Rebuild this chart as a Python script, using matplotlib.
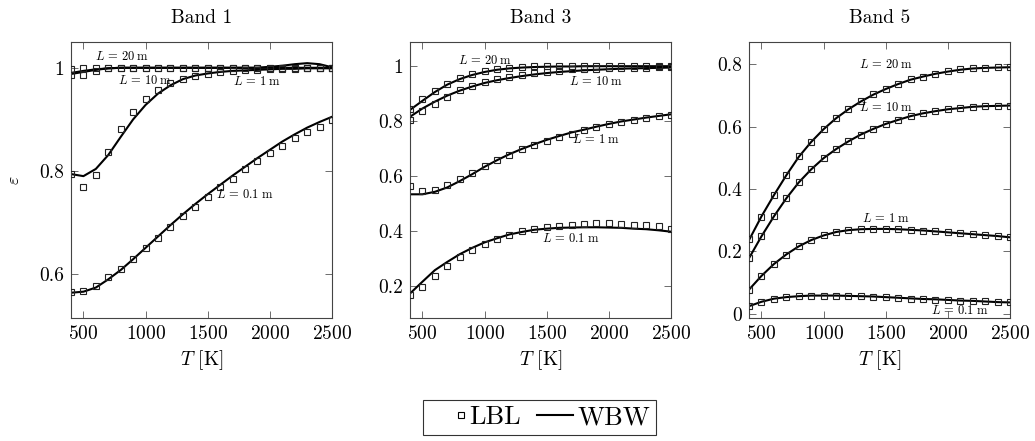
import numpy as np
import matplotlib
matplotlib.use("Agg")
import matplotlib.pyplot as plt
from matplotlib.ticker import FuncFormatter
from matplotlib.lines import Line2D
from matplotlib.legend_handler import HandlerBase

plt.rcParams['font.family'] = ['cmr10', 'DejaVu Serif']
plt.rcParams['mathtext.fontset'] = 'cm'
plt.rcParams['axes.formatter.use_mathtext'] = True

T = [400, 500, 600, 700, 800, 900, 1000, 1100, 1200, 1300, 1400, 1500,
     1600, 1700, 1800, 1900, 2000, 2100, 2200, 2300, 2400, 2500]
lengths = ["20", "10", "1", "0.1"]

# ---- Band 1 ----
b1_lbl_20 = [0.998, 0.999, 1.000, 1.000, 1.000, 1.000, 1.000, 1.000, 1.000, 1.000, 1.000,
             1.000, 1.000, 1.000, 1.000, 1.000, 1.000, 1.000, 1.000, 1.000, 1.000, 1.000]
b1_lbl_10 = [0.987, 0.986, 0.994, 0.999, 1.000, 1.000, 1.000, 1.000, 1.000, 1.000, 1.000,
             1.000, 1.000, 1.000, 1.000, 1.000, 1.000, 1.000, 1.000, 1.000, 1.000, 1.000]
b1_lbl_1 = [0.795, 0.768, 0.792, 0.837, 0.882, 0.915, 0.940, 0.957, 0.970, 0.979, 0.985,
            0.988, 0.992, 0.994, 0.995, 0.996, 0.997, 0.998, 0.998, 0.999, 0.999, 0.999]
b1_lbl_01 = [0.566, 0.568, 0.577, 0.594, 0.610, 0.630, 0.650, 0.671, 0.692, 0.712, 0.731,
             0.750, 0.768, 0.785, 0.803, 0.819, 0.834, 0.848, 0.863, 0.875, 0.886, 0.898]
b1_wbw_20 = [0.990, 0.994, 0.997, 0.999, 1.000, 1.000, 1.000, 1.000, 1.000, 1.000, 1.000,
             1.000, 1.000, 1.000, 1.000, 1.000, 1.002, 1.004, 1.007, 1.009, 1.007, 1.001]
b1_wbw_10 = [0.988, 0.992, 0.996, 0.999, 1.000, 1.000, 1.000, 1.000, 1.000, 1.000, 1.000,
             1.000, 1.000, 1.000, 1.000, 1.000, 1.000, 1.000, 1.000, 1.000, 1.000, 1.000]
b1_wbw_1 = [0.794, 0.790, 0.804, 0.831, 0.866, 0.900, 0.928, 0.950, 0.966, 0.978, 0.985,
            0.989, 0.992, 0.994, 0.995, 0.996, 0.997, 0.998, 0.998, 0.999, 0.999, 0.999]
b1_wbw_01 = [0.564, 0.566, 0.574, 0.590, 0.608, 0.629, 0.651, 0.673, 0.695, 0.716, 0.736,
             0.755, 0.773, 0.791, 0.808, 0.825, 0.841, 0.857, 0.871, 0.884, 0.895, 0.905]

# ---- Band 3 ----
b3_lbl_20 = [0.845, 0.878, 0.909, 0.935, 0.955, 0.971, 0.982, 0.989, 0.993, 0.996, 0.998,
             0.999, 0.999, 1.000, 1.000, 1.000, 1.000, 1.000, 1.000, 1.000, 1.000, 1.000]
b3_lbl_10 = [0.802, 0.835, 0.863, 0.888, 0.912, 0.927, 0.942, 0.952, 0.960, 0.966, 0.975,
             0.979, 0.983, 0.987, 0.988, 0.989, 0.992, 0.992, 0.993, 0.994, 0.995, 0.996]
b3_lbl_1 = [0.564, 0.545, 0.548, 0.566, 0.588, 0.612, 0.636, 0.657, 0.676, 0.696, 0.713,
            0.726, 0.742, 0.754, 0.767, 0.778, 0.787, 0.795, 0.804, 0.811, 0.817, 0.823]
b3_lbl_01 = [0.166, 0.196, 0.235, 0.273, 0.305, 0.332, 0.354, 0.371, 0.385, 0.399, 0.407,
             0.415, 0.419, 0.423, 0.424, 0.427, 0.427, 0.425, 0.423, 0.421, 0.416, 0.408]
b3_wbw_20 = [0.840, 0.873, 0.905, 0.932, 0.952, 0.967, 0.978, 0.986, 0.991, 0.994, 0.996,
             0.997, 0.998, 0.998, 0.999, 0.999, 0.999, 0.999, 0.999, 0.999, 0.999, 0.999]
b3_wbw_10 = [0.815, 0.845, 0.870, 0.892, 0.910, 0.925, 0.938, 0.948, 0.956, 0.963, 0.969,
             0.974, 0.978, 0.981, 0.984, 0.986, 0.988, 0.990, 0.991, 0.992, 0.993, 0.994]
b3_wbw_1 = [0.533, 0.533, 0.542, 0.558, 0.581, 0.606, 0.633, 0.657, 0.679, 0.698, 0.715,
            0.731, 0.745, 0.758, 0.768, 0.779, 0.789, 0.798, 0.805, 0.812, 0.818, 0.824]
b3_wbw_01 = [0.172, 0.215, 0.257, 0.287, 0.315, 0.338, 0.358, 0.373, 0.387, 0.396, 0.404,
             0.408, 0.411, 0.412, 0.413, 0.413, 0.412, 0.411, 0.408, 0.406, 0.402, 0.397]

# ---- Band 5 ----
b5_lbl_20 = [0.238, 0.310, 0.382, 0.446, 0.505, 0.552, 0.593, 0.627, 0.657, 0.682, 0.704,
             0.722, 0.738, 0.752, 0.761, 0.770, 0.778, 0.784, 0.788, 0.790, 0.791, 0.791]
b5_lbl_10 = [0.180, 0.248, 0.312, 0.371, 0.422, 0.464, 0.499, 0.528, 0.554, 0.575, 0.594,
             0.610, 0.622, 0.635, 0.643, 0.650, 0.656, 0.661, 0.664, 0.666, 0.667, 0.667]
b5_lbl_1 = [0.077, 0.120, 0.158, 0.189, 0.216, 0.236, 0.251, 0.262, 0.267, 0.271, 0.272,
            0.272, 0.271, 0.268, 0.266, 0.264, 0.261, 0.258, 0.255, 0.251, 0.248, 0.245]
b5_lbl_01 = [0.024, 0.037, 0.048, 0.053, 0.057, 0.058, 0.058, 0.058, 0.057, 0.056, 0.055,
             0.052, 0.050, 0.048, 0.047, 0.045, 0.044, 0.042, 0.040, 0.039, 0.037, 0.036]
b5_wbw_20 = [0.236, 0.312, 0.380, 0.444, 0.503, 0.551, 0.592, 0.627, 0.656, 0.681, 0.703,
             0.721, 0.737, 0.751, 0.761, 0.770, 0.777, 0.783, 0.787, 0.789, 0.790, 0.791]
b5_wbw_10 = [0.178, 0.248, 0.312, 0.370, 0.421, 0.463, 0.499, 0.528, 0.553, 0.575, 0.593,
             0.609, 0.622, 0.634, 0.643, 0.650, 0.656, 0.660, 0.664, 0.666, 0.667, 0.668]
b5_wbw_1 = [0.077, 0.121, 0.159, 0.190, 0.216, 0.236, 0.251, 0.262, 0.268, 0.271, 0.272,
            0.272, 0.271, 0.269, 0.267, 0.264, 0.261, 0.258, 0.255, 0.252, 0.249, 0.245]
b5_wbw_01 = [0.024, 0.038, 0.048, 0.053, 0.056, 0.058, 0.058, 0.058, 0.057, 0.056, 0.055,
             0.053, 0.051, 0.049, 0.047, 0.046, 0.044, 0.042, 0.041, 0.039, 0.037, 0.036]

titles = ["Band 1", "Band 3", "Band 5"]
lbl = [[b1_lbl_20, b1_lbl_10, b1_lbl_1, b1_lbl_01],
       [b3_lbl_20, b3_lbl_10, b3_lbl_1, b3_lbl_01],
       [b5_lbl_20, b5_lbl_10, b5_lbl_1, b5_lbl_01]]
wbw = [[b1_wbw_20, b1_wbw_10, b1_wbw_1, b1_wbw_01],
       [b3_wbw_20, b3_wbw_10, b3_wbw_1, b3_wbw_01],
       [b5_wbw_20, b5_wbw_10, b5_wbw_1, b5_wbw_01]]

ylims = [(0.515, 1.05), (0.083, 1.087), (-0.014, 0.872)]
yticks = [[0.6, 0.8, 1.0], [0.2, 0.4, 0.6, 0.8, 1.0], [0, 0.2, 0.4, 0.6, 0.8]]
# label positions (T, eps) for L=20, 10, 1, 0.1
label_pos = [
    [(810, 1.022), (996, 0.975), (1895, 0.973), (1800, 0.754)],
    [(1004, 1.018), (1897, 0.942), (1897, 0.733), (1696, 0.373)],
    [(1500, 0.799), (1500, 0.663), (1500, 0.307), (2093, 0.011)],
]


class RightMarkerHandler(HandlerBase):
    def create_artists(self, legend, orig_handle, xdescent, ydescent,
                       width, height, fontsize, trans):
        m = Line2D([width - 3], [height / 2 - ydescent], linestyle="none",
                   marker="s", ms=4.2, mfc="none", mec="black", mew=0.8,
                   transform=trans)
        return [m]


fig = plt.figure(figsize=(10.35, 4.41), dpi=100)
lefts = [71 / 1035, 410 / 1035, 749 / 1035]
W = 261 / 1035
B = (441 - 318) / 441
H = 276 / 441

fmt = FuncFormatter(lambda v, p: f"{v:g}")
for i in range(3):
    ax = fig.add_axes([lefts[i], B, W, H])
    for j in range(4):
        ax.plot(T, wbw[i][j], color="black", lw=1.5, zorder=2)
        ax.plot(T, lbl[i][j], linestyle="none", marker="s", ms=4.6,
                mfc="none", mec="#222222", mew=0.8, zorder=3)
        tx, ty = label_pos[i][j]
        ax.text(tx, ty, r"$L\,{=}\," + lengths[j] + r"\;\mathrm{m}$", fontsize=9,
                ha="center", va="center", zorder=4)
    ax.set_xlim(400, 2500)
    ax.set_ylim(*ylims[i])
    ax.set_xticks([500, 1000, 1500, 2000, 2500])
    ax.set_yticks(yticks[i])
    ax.yaxis.set_major_formatter(fmt)
    ax.tick_params(direction="in", length=5, width=0.6, top=True, right=True,
                   labelsize=14, color="#555555", pad=5)
    for s in ax.spines.values():
        s.set_linewidth(0.8)
        s.set_color("#444444")
    ax.set_title(titles[i], fontsize=14, pad=14)
    ax.set_xlabel(r"$T$ [K]", fontsize=14, labelpad=4)
    if i == 0:
        ax.set_ylabel(r"$\varepsilon$", fontsize=13, labelpad=12)

lbl_handle = Line2D([], [], linestyle="none", marker="s")
wbw_handle = Line2D([], [], color="black", lw=1.5)
leg = fig.legend([lbl_handle, wbw_handle], ["LBL", "WBW"], loc="center",
                 bbox_to_anchor=(0.521, 0.053), ncol=2, fontsize=19, frameon=True,
                 fancybox=False, edgecolor="black", handlelength=1.4,
                 handletextpad=0.15, columnspacing=0.6, borderpad=0.2,
                 borderaxespad=0.0,
                 handler_map={lbl_handle: RightMarkerHandler()})
leg.get_frame().set_linewidth(0.8)

fig.savefig("out.png", dpi=100)
